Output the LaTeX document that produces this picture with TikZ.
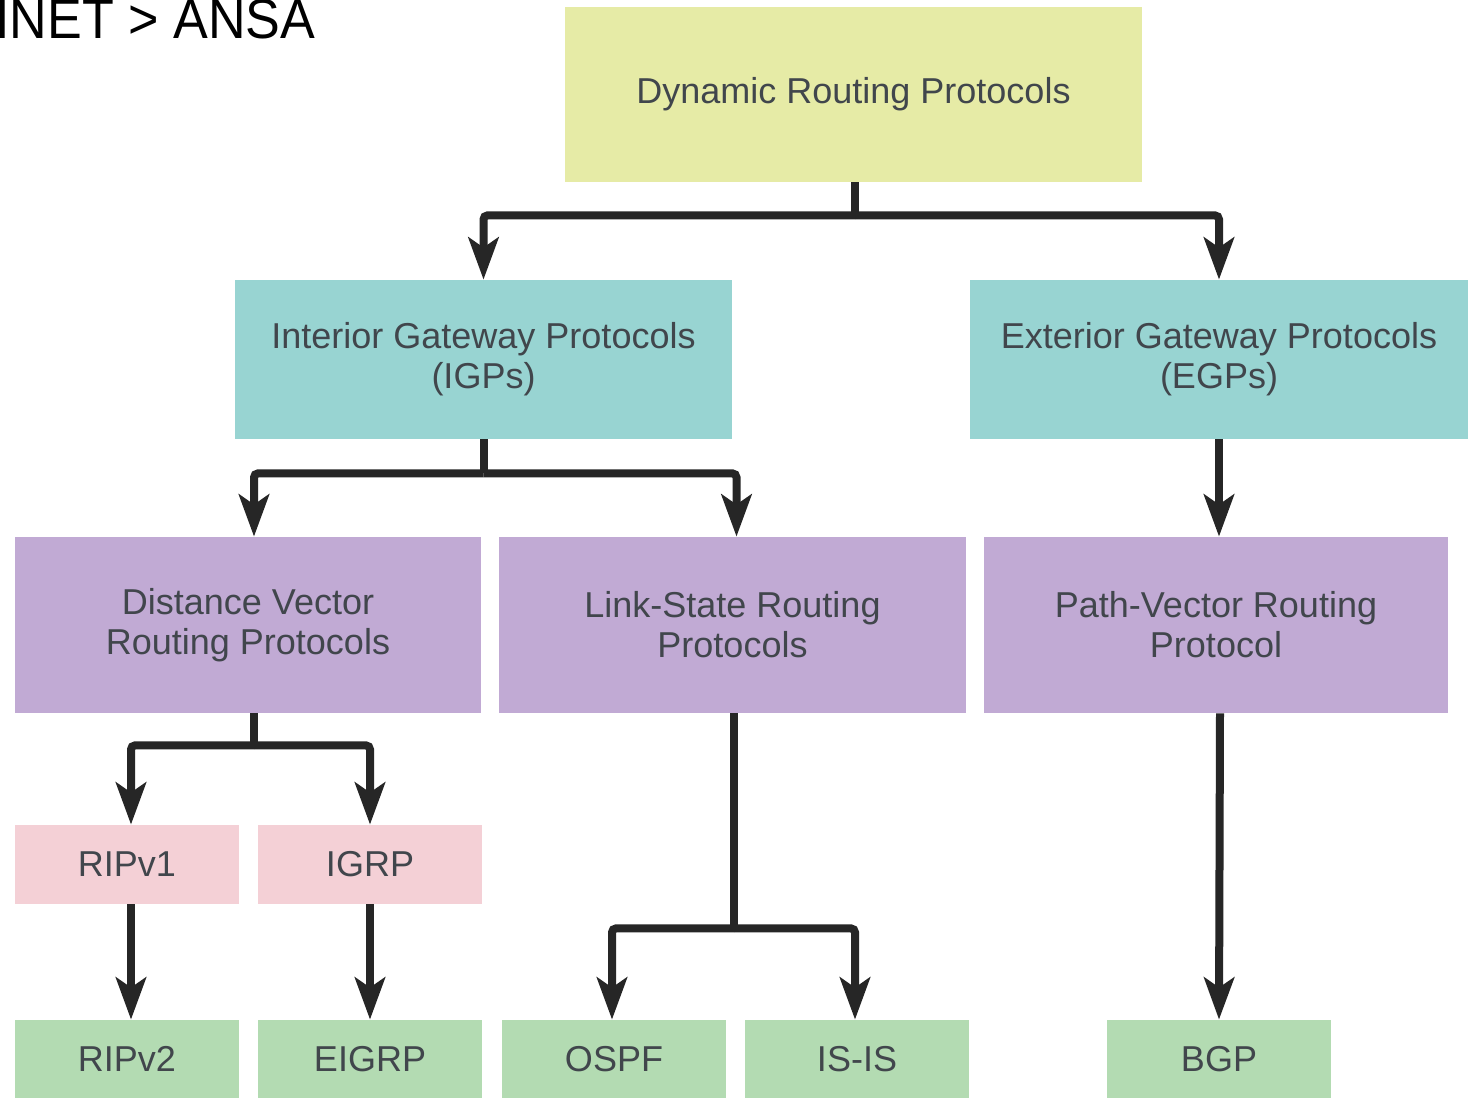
\documentclass[tikz,border=0pt]{standalone}
\usepackage{fontspec}
\setmainfont{Liberation Sans}
\newfontfamily\headfont[FakeStretch=0.93]{Liberation Sans}
\usetikzlibrary{arrows.meta,calc}

\definecolor{yelbox}{HTML}{E6EBA6}
\definecolor{tealbox}{HTML}{98D4D2}
\definecolor{purbox}{HTML}{C1AAD4}
\definecolor{pinkbox}{HTML}{F4D0D6}
\definecolor{greenbox}{HTML}{B3DBB2}
\definecolor{labeltext}{HTML}{41464C}
\definecolor{wire}{HTML}{262626}

\tikzset{
  box/.style={draw=none, rectangle, inner sep=0pt, align=center,
    font=\fontsize{18}{20}\selectfont, text=labeltext},
  wireline/.style={line width=4pt, draw=wire, rounded corners=2pt},
  arrowline/.style={wireline, -{Stealth[length=21pt, width=15pt, inset=5pt]}},
}

\begin{document}
\begin{tikzpicture}[x=0.5pt, y=-0.5pt]
  \useasboundingbox (0,0) rectangle (1468,1098);
  \fill[white] (0,0) rectangle (1468,1098);

  % heading in the top-left corner
  \node[anchor=base west, inner sep=0pt, font=\headfont\fontsize{28}{30}\selectfont] (head) at (-5,38) {INET > ANSA};

  % top level
  \node[box, fill=yelbox, minimum width=288.5pt, minimum height=87.5pt] (dyn) at (853.5,94.5) {Dynamic Routing Protocols};

  % gateway protocol classes
  \node[box, fill=tealbox, minimum width=248.5pt, minimum height=79.5pt] (igp) at (483.5,359.5) {Interior Gateway Protocols\\(IGPs)};
  \node[box, fill=tealbox, minimum width=249pt, minimum height=79.5pt] (egp) at (1219,359.5) {Exterior Gateway Protocols\\(EGPs)};

  % routing protocol families
  \node[box, fill=purbox, minimum width=233pt, minimum height=88pt] (dv) at (248,625) {Distance Vector\\Routing Protocols};
  \node[box, fill=purbox, minimum width=233.5pt, minimum height=88pt] (ls) at (732.5,625) {Link-State Routing\\Protocols};
  \node[box, fill=purbox, minimum width=232pt, minimum height=88pt] (pv) at (1216,625) {Path-Vector Routing\\Protocol};

  % classful protocols
  \node[box, fill=pinkbox, minimum width=112pt, minimum height=39.5pt] (ripa) at (127,864.5) {RIPv1};
  \node[box, fill=pinkbox, minimum width=112pt, minimum height=39.5pt] (igrp) at (370,864.5) {IGRP};

  % classless protocols
  \node[box, fill=greenbox, minimum width=112pt, minimum height=39pt] (ripb) at (127,1059) {RIPv2};
  \node[box, fill=greenbox, minimum width=112pt, minimum height=39pt] (eigrp) at (370,1059) {EIGRP};
  \node[box, fill=greenbox, minimum width=112pt, minimum height=39pt] (ospf) at (614,1059) {OSPF};
  \node[box, fill=greenbox, minimum width=112pt, minimum height=39pt] (isis) at (857,1059) {IS-IS};
  \node[box, fill=greenbox, minimum width=112pt, minimum height=39pt] (bgp) at (1219,1059) {BGP};

  % junction points of the branching connectors
  \coordinate (jdyn) at ($(dyn.south)+(1.5,33)$);
  \coordinate (jigp) at ($(igp.south)+(0,34)$);
  \coordinate (jdv)  at ($(dv.south)+(6,32)$);
  \coordinate (jls)  at ($(ls.south)+(1.5,215)$);

  \draw[wireline] ($(dyn.south)+(1.5,0)$) -- (jdyn);
  \draw[arrowline] (jdyn) -| (igp.north);
  \draw[arrowline] (jdyn) -| (egp.north);

  \draw[wireline] (igp.south) -- (jigp);
  \draw[arrowline] (jigp) -| ($(dv.north)+(6,0)$);
  \draw[arrowline] (jigp) -| ($(ls.north)+(4,0)$);

  \draw[arrowline] (egp.south) -- (egp.south |- pv.north);

  \draw[wireline] ($(dv.south)+(6,0)$) -- (jdv);
  \draw[arrowline] (jdv) -| ($(ripa.north)+(4,0)$);
  \draw[arrowline] (jdv) -| (igrp.north);

  \draw[arrowline] ($(ripa.south)+(4,0)$) -- ($(ripb.north)+(4,0)$);
  \draw[arrowline] (igrp.south) -- (eigrp.north);

  \draw[wireline] ($(ls.south)+(1.5,0)$) -- (jls);
  \draw[arrowline] (jls) -| ($(ospf.north)+(-2,0)$);
  \draw[arrowline] (jls) -| ($(isis.north)+(-2,0)$);

  \draw[arrowline] ($(pv.south)+(4,0)$) -- (bgp.north);
\end{tikzpicture}
\end{document}
